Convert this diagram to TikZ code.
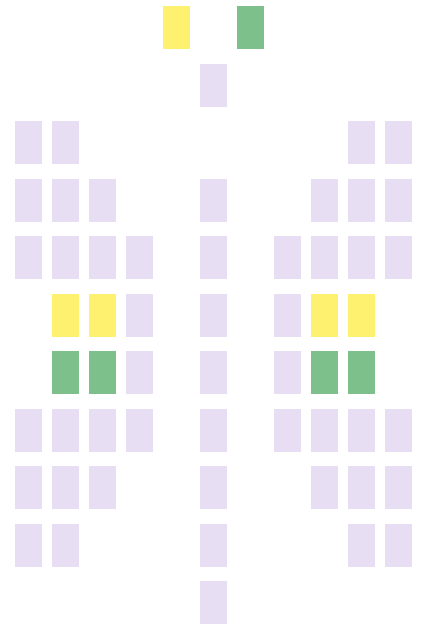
\documentclass[tikz,border=0pt]{standalone}
\usepackage{tikz}
\usetikzlibrary{positioning}

\definecolor{seatlav}{HTML}{E8DEF3}
\definecolor{seatyel}{HTML}{FFF170}
\definecolor{seatgrn}{HTML}{7DC08C}

\begin{document}
\begin{tikzpicture}[x=1pt,y=-1pt,
  seat/.style={rectangle,minimum width=27pt,minimum height=43pt,inner sep=0pt},
  plainseat/.style={seat,fill=seatlav},
  yelseat/.style={seat,fill=seatyel},
  grnseat/.style={seat,fill=seatgrn}]
  \useasboundingbox (0,0) rectangle (423,627);

  % top pair
  \node[yelseat] (top-y) at ({213.5-37},27.5) {};
  \node[grnseat] (top-g) at ({213.5+37},27.5) {};

  % lavender seats, row / columns
  \foreach \r/\cols in {1/{0}, 2/{-5,-4,4,5}, 3/{-5,-4,-3,0,3,4,5},
      4/{-5,-4,-3,-2,0,2,3,4,5}, 5/{-2,0,2}, 6/{-2,0,2},
      7/{-5,-4,-3,-2,0,2,3,4,5}, 8/{-5,-4,-3,0,3,4,5},
      9/{-5,-4,0,4,5}, 10/{0}}
    \foreach \c in \cols
      \node[plainseat] (s-\r-\c) at ({213.5+37*\c},{27.5+57.5*\r}) {};

  % coloured seats
  \foreach \c in {-4,-3,3,4} {
    \node[yelseat] (s-5-\c) at ({213.5+37*\c},{27.5+57.5*5}) {};
    \node[grnseat] (s-6-\c) at ({213.5+37*\c},{27.5+57.5*6}) {};
  }
\end{tikzpicture}
\end{document}
